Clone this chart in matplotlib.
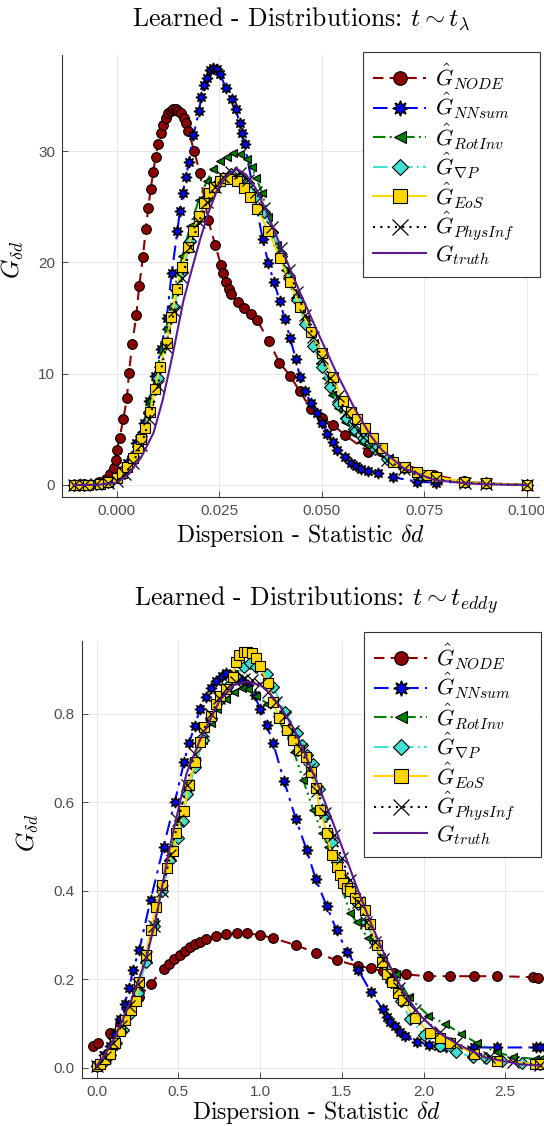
import matplotlib
matplotlib.use("Agg")
import matplotlib.pyplot as plt

plt.rcParams['mathtext.fontset'] = 'cm'
plt.rcParams['font.family'] = ['Liberation Sans', 'DejaVu Sans']

# ---------------- data: t ~ t_lambda (top) ----------------
node_x_a = [-0.0105, -0.008, -0.0044, -0.0027, -0.0016, -0.0007, -0.0002, 0.0, 0.0007, 0.0016, 0.0025, 0.003,
            0.0038, 0.0048, 0.0055, 0.0064, 0.0071, 0.0077, 0.0083, 0.0089, 0.0095, 0.0101, 0.0108, 0.0113,
            0.0120, 0.0125, 0.0132, 0.0138, 0.0144, 0.0150, 0.0156, 0.0164, 0.0169, 0.0175, 0.0189, 0.0203,
            0.0223, 0.0240, 0.0254, 0.0260, 0.0267, 0.0275, 0.0280, 0.0297, 0.0311, 0.0327, 0.0343, 0.0371,
            0.0397, 0.0423, 0.0447, 0.0474, 0.0501, 0.0528, 0.0556, 0.0613, 0.0775, 0.0847, 0.0900, 0.1000]
node_y_a = [0.0, 0.1, 0.3, 0.5, 1.0, 1.5, 2.2, 3.1, 4.2, 5.9, 7.8, 10.1,
            12.7, 15.3, 17.9, 20.5, 23.0, 24.9, 26.6, 28.1, 29.5, 30.6, 31.6, 32.3,
            33.0, 33.4, 33.6, 33.8, 33.8, 33.6, 33.4, 33.0, 32.5, 31.8, 30.0, 28.0,
            23.8, 21.6, 19.8, 19.0, 18.2, 17.6, 17.2, 16.4, 15.9, 15.4, 14.8, 12.9,
            11.0, 9.8, 8.4, 6.8, 6.0, 5.4, 4.5, 3.0, 0.9, 0.35, 0.15, 0.0]

nn_x_a = [-0.0105, -0.009, -0.002, 0.001, 0.0026, 0.0048, 0.0067, 0.0079, 0.0093, 0.0108, 0.0122, 0.0134,
          0.0148, 0.0154, 0.0161, 0.0169, 0.0176, 0.0187, 0.0201, 0.0206, 0.0213, 0.0220, 0.0227, 0.0235,
          0.0244, 0.0252, 0.0266, 0.0281, 0.0290, 0.0300, 0.0306, 0.0312, 0.0356, 0.0370, 0.0384, 0.0398,
          0.0410, 0.0423, 0.0437, 0.0447, 0.0459, 0.0474, 0.0488, 0.0501, 0.0514, 0.0527, 0.0538, 0.0556,
          0.0571, 0.0584, 0.0597, 0.0612, 0.0638, 0.0673, 0.0733, 0.0780, 0.0847, 0.0900, 0.1000]
nn_y_a = [0.0, 0.1, 0.3, 0.9, 2.0, 3.8, 5.6, 7.5, 9.8, 12.2, 15.0, 19.0,
          22.8, 24.6, 26.2, 27.7, 29.0, 31.4, 33.6, 34.9, 35.9, 36.6, 37.3, 37.5,
          37.4, 36.9, 35.7, 34.7, 33.8, 32.5, 31.6, 30.6, 22.1, 19.9, 18.2, 16.5,
          14.9, 13.2, 11.3, 9.7, 8.4, 7.4, 6.5, 5.6, 4.6, 3.9, 3.1, 2.5,
          2.0, 1.7, 1.4, 1.3, 1.1, 0.7, 0.3, 0.2, 0.3, 0.15, 0.0]

rot_x_a = [-0.0105, -0.008, -0.005, -0.002, 0.0, 0.002, 0.004, 0.006, 0.008, 0.010, 0.012, 0.014,
           0.016, 0.018, 0.0200, 0.0220, 0.0236, 0.0252, 0.0268, 0.0284, 0.0301, 0.0317, 0.0329, 0.0340,
           0.0355, 0.0370, 0.0390, 0.0410, 0.0435, 0.0460, 0.0482, 0.0497, 0.0510, 0.0526, 0.0540, 0.0558,
           0.0574, 0.0597, 0.0612, 0.0638, 0.0663, 0.0699, 0.0733, 0.0780, 0.0847, 0.0900, 0.1000]
rot_y_a = [0.0, 0.0, 0.1, 0.3, 0.7, 1.4, 2.8, 4.8, 7.5, 10.6, 14.0, 17.5,
           20.6, 23.3, 25.6, 27.3, 28.4, 29.1, 29.5, 29.8, 29.7, 29.3, 28.6, 27.6,
           26.2, 24.1, 21.6, 19.3, 16.8, 14.9, 12.8, 11.0, 9.6, 8.1, 6.9, 5.7,
           4.7, 3.9, 3.5, 3.0, 2.4, 1.7, 1.0, 0.5, 0.2, 0.1, 0.0]

grad_x_a = [-0.0105, -0.008, -0.005, -0.002, 0.0, 0.002, 0.004, 0.006, 0.008, 0.010, 0.012, 0.014,
            0.016, 0.018, 0.020, 0.022, 0.024, 0.026, 0.028, 0.030, 0.032, 0.034, 0.036, 0.038,
            0.040, 0.042, 0.044, 0.046, 0.048, 0.050, 0.052, 0.054, 0.056, 0.058, 0.060, 0.063,
            0.066, 0.070, 0.074, 0.078, 0.085, 0.090, 0.100]
grad_y_a = [0.0, 0.0, 0.1, 0.3, 0.7, 1.5, 2.6, 4.4, 6.6, 9.6, 12.8, 16.0,
            19.1, 21.9, 24.0, 25.8, 26.9, 27.6, 27.9, 27.7, 27.1, 26.0, 24.5, 22.7,
            20.6, 18.6, 16.6, 14.5, 12.5, 10.6, 8.8, 7.3, 6.0, 5.0, 4.2, 3.2,
            2.3, 1.5, 0.9, 0.6, 0.3, 0.15, 0.0]

eos_x_a = [-0.0105, -0.009, -0.007, -0.004, -0.002, 0.0, 0.0014, 0.0026, 0.0040, 0.0052, 0.0060, 0.0069,
           0.0082, 0.0093, 0.0105, 0.0122, 0.0133, 0.0147, 0.0159, 0.0174, 0.0186, 0.0201, 0.0213, 0.0225,
           0.0238, 0.0252, 0.0264, 0.0276, 0.0293, 0.0310, 0.0325, 0.0343, 0.0370, 0.0398, 0.0423, 0.0447,
           0.0474, 0.0500, 0.0527, 0.0553, 0.0571, 0.0587, 0.0605, 0.0625, 0.0648, 0.0673, 0.0702, 0.0732,
           0.0758, 0.0780, 0.0847, 0.0900, 0.1000]
eos_y_a = [0.0, 0.0, 0.0, 0.1, 0.3, 0.6, 1.1, 1.6, 2.4, 3.3, 4.1, 5.1,
           6.6, 8.6, 10.6, 12.8, 15.1, 17.6, 19.6, 21.4, 22.8, 24.2, 25.3, 26.2,
           26.8, 27.3, 27.6, 27.5, 27.3, 26.7, 25.9, 24.8, 22.8, 20.4, 18.2, 16.0,
           13.7, 11.9, 9.7, 7.5, 6.6, 5.9, 5.1, 4.2, 3.3, 2.1, 1.6, 1.2,
           0.9, 0.7, 0.3, 0.15, 0.0]

phys_x_a = [-0.0105, -0.008, -0.005, -0.002, 0.0, 0.002, 0.004, 0.006, 0.008, 0.010, 0.012, 0.014,
            0.016, 0.018, 0.020, 0.022, 0.024, 0.026, 0.028, 0.030, 0.032, 0.034, 0.036, 0.038,
            0.040, 0.042, 0.044, 0.046, 0.048, 0.050, 0.052, 0.054, 0.056, 0.058, 0.060, 0.063,
            0.066, 0.070, 0.074, 0.078, 0.085, 0.090, 0.100]
phys_y_a = [0.0, 0.0, 0.05, 0.2, 0.4, 1.0, 2.0, 3.6, 5.9, 8.9, 12.4, 15.6,
            18.6, 21.4, 23.6, 25.4, 26.8, 27.7, 28.1, 28.0, 27.4, 26.3, 24.9, 23.2,
            21.3, 19.3, 17.3, 15.3, 13.3, 11.4, 9.6, 8.0, 6.5, 5.3, 4.3, 3.1,
            2.2, 1.4, 0.8, 0.5, 0.2, 0.1, 0.0]

truth_x_a = [-0.0105, -0.005, 0.0, 0.003, 0.006, 0.009, 0.0112, 0.0137, 0.0163, 0.0185, 0.0203, 0.0222,
             0.0244, 0.0268, 0.0293, 0.0315, 0.0340, 0.0366, 0.0406, 0.0447, 0.0488, 0.0537, 0.0580, 0.0620,
             0.0648, 0.0700, 0.0775, 0.0850, 0.0920, 0.1000]
truth_y_a = [0.0, 0.0, 0.2, 1.0, 2.5, 4.7, 7.6, 11.8, 16.6, 19.6, 22.0, 24.3,
             26.4, 27.8, 28.4, 27.9, 26.6, 24.5, 20.9, 17.3, 13.9, 10.0, 6.9, 4.4,
             3.1, 1.5, 0.45, 0.15, 0.05, 0.0]

# ---------------- data: t ~ t_eddy (bottom) ----------------
node_x_b = [-0.02, 0.01, 0.08, 0.14, 0.19, 0.26, 0.33, 0.41, 0.44, 0.47, 0.51, 0.54,
            0.57, 0.60, 0.63, 0.67, 0.73, 0.79, 0.86, 0.92, 1.00, 1.08, 1.22, 1.34,
            1.47, 1.60, 1.68, 1.75, 1.82, 1.89, 2.03, 2.16, 2.31, 2.45, 2.67, 2.70]
node_y_b = [0.05, 0.057, 0.078, 0.10, 0.13, 0.16, 0.19, 0.223, 0.234, 0.245, 0.255, 0.264,
            0.272, 0.28, 0.285, 0.29, 0.298, 0.302, 0.304, 0.304, 0.30, 0.293, 0.277, 0.26,
            0.243, 0.23, 0.225, 0.218, 0.214, 0.211, 0.207, 0.207, 0.207, 0.207, 0.205, 0.204]

nn_x_b = [0.0, 0.045, 0.08, 0.11, 0.14, 0.17, 0.20, 0.22, 0.26, 0.33, 0.409, 0.477,
          0.534, 0.563, 0.602, 0.630, 0.669, 0.698, 0.727, 0.765, 0.794, 0.842, 0.890, 0.928,
          0.967, 0.999, 1.04, 1.08, 1.146, 1.219, 1.285, 1.341, 1.407, 1.468, 1.533, 1.60,
          1.676, 1.75, 1.774, 1.795, 1.825, 1.856, 1.886, 1.958, 2.035, 2.09, 2.14, 2.31,
          2.45, 2.69, 2.71]
nn_y_b = [0.007, 0.03, 0.05, 0.077, 0.11, 0.145, 0.18, 0.22, 0.266, 0.38, 0.50, 0.60,
          0.69, 0.733, 0.773, 0.81, 0.838, 0.858, 0.875, 0.886, 0.893, 0.89, 0.877, 0.866,
          0.843, 0.81, 0.775, 0.733, 0.649, 0.562, 0.492, 0.426, 0.366, 0.311, 0.262, 0.222,
          0.172, 0.132, 0.115, 0.104, 0.094, 0.082, 0.072, 0.059, 0.052, 0.05, 0.046, 0.046,
          0.046, 0.046, 0.046]

rot_x_b = [0.0, 0.05, 0.10, 0.15, 0.20, 0.25, 0.30, 0.35, 0.40, 0.45, 0.50, 0.55,
           0.60, 0.65, 0.70, 0.736, 0.794, 0.842, 0.890, 0.928, 0.976, 1.044, 1.101, 1.150,
           1.207, 1.264, 1.325, 1.38, 1.417, 1.48, 1.55, 1.59, 1.66, 1.74, 1.83, 1.91,
           2.03, 2.13, 2.23, 2.33, 2.45, 2.55, 2.68, 2.71]
rot_y_b = [0.005, 0.02, 0.05, 0.09, 0.13, 0.18, 0.25, 0.33, 0.41, 0.48, 0.56, 0.63,
           0.69, 0.74, 0.78, 0.81, 0.834, 0.85, 0.859, 0.857, 0.841, 0.823, 0.795, 0.76,
           0.714, 0.65, 0.583, 0.53, 0.50, 0.43, 0.35, 0.33, 0.293, 0.25, 0.213, 0.16,
           0.118, 0.10, 0.077, 0.055, 0.035, 0.025, 0.02, 0.02]

grad_x_b = [0.0, 0.04, 0.08, 0.12, 0.16, 0.20, 0.25, 0.30, 0.35, 0.40, 0.45, 0.50,
            0.525, 0.554, 0.60, 0.65, 0.70, 0.75, 0.80, 0.85, 0.90, 0.937, 0.976, 1.04,
            1.08, 1.152, 1.223, 1.254, 1.285, 1.322, 1.36, 1.40, 1.44, 1.468, 1.509, 1.55,
            1.60, 1.65, 1.70, 1.753, 1.80, 1.86, 1.92, 2.00, 2.10, 2.20, 2.30, 2.38,
            2.48, 2.60, 2.71]
grad_y_b = [0.003, 0.012, 0.03, 0.055, 0.085, 0.12, 0.17, 0.24, 0.32, 0.40, 0.47, 0.52,
            0.557, 0.618, 0.68, 0.74, 0.79, 0.83, 0.86, 0.885, 0.905, 0.914, 0.905, 0.891,
            0.861, 0.805, 0.756, 0.73, 0.707, 0.687, 0.63, 0.57, 0.51, 0.466, 0.43, 0.40,
            0.37, 0.33, 0.285, 0.236, 0.195, 0.15, 0.11, 0.075, 0.05, 0.035, 0.025, 0.023,
            0.015, 0.01, 0.008]

eos_x_b = [0.0, 0.02, 0.05, 0.08, 0.11, 0.14, 0.17, 0.21, 0.24, 0.26, 0.30, 0.33,
           0.36, 0.40, 0.43, 0.467, 0.486, 0.534, 0.563, 0.602, 0.630, 0.659, 0.698, 0.727,
           0.755, 0.794, 0.832, 0.852, 0.871, 0.900, 0.919, 0.948, 0.976, 0.999, 1.05, 1.08,
           1.117, 1.162, 1.203, 1.239, 1.28, 1.311, 1.341, 1.366, 1.407, 1.437, 1.468, 1.488,
           1.509, 1.529, 1.55, 1.58, 1.611, 1.641, 1.672, 1.713, 1.744, 1.774, 1.805, 1.845,
           1.876, 1.947, 2.04, 2.10, 2.16, 2.31, 2.45, 2.68, 2.71]
eos_y_b = [0.003, 0.009, 0.02, 0.032, 0.057, 0.084, 0.107, 0.13, 0.152, 0.193, 0.254, 0.311,
           0.364, 0.413, 0.452, 0.49, 0.53, 0.58, 0.64, 0.69, 0.736, 0.77, 0.796, 0.823,
           0.841, 0.857, 0.884, 0.918, 0.932, 0.94, 0.94, 0.938, 0.927, 0.907, 0.869, 0.827,
           0.79, 0.763, 0.741, 0.718, 0.702, 0.669, 0.632, 0.583, 0.53, 0.481, 0.454, 0.436,
           0.417, 0.406, 0.40, 0.383, 0.375, 0.357, 0.325, 0.277, 0.24, 0.213, 0.195, 0.168,
           0.153, 0.112, 0.078, 0.068, 0.057, 0.032, 0.016, 0.009, 0.008]

phys_x_b = [0.0, 0.05, 0.10, 0.15, 0.20, 0.25, 0.30, 0.35, 0.40, 0.45, 0.50, 0.55,
            0.60, 0.65, 0.70, 0.75, 0.80, 0.85, 0.90, 0.95, 1.00, 1.05, 1.10, 1.15,
            1.20, 1.25, 1.30, 1.35, 1.40, 1.45, 1.50, 1.55, 1.60, 1.65, 1.70, 1.75,
            1.80, 1.85, 1.90, 1.95, 2.00, 2.10, 2.20, 2.30, 2.40, 2.55, 2.71]
phys_y_b = [0.004, 0.025, 0.055, 0.095, 0.14, 0.19, 0.25, 0.32, 0.40, 0.48, 0.56, 0.64,
            0.71, 0.76, 0.80, 0.835, 0.858, 0.872, 0.878, 0.876, 0.868, 0.85, 0.826, 0.795,
            0.76, 0.72, 0.675, 0.625, 0.575, 0.525, 0.475, 0.425, 0.375, 0.33, 0.285, 0.245,
            0.21, 0.18, 0.153, 0.13, 0.11, 0.08, 0.056, 0.038, 0.025, 0.013, 0.006]

truth_x_b = [0.0, 0.05, 0.11, 0.21, 0.30, 0.36, 0.448, 0.55, 0.632, 0.754, 0.84, 0.919,
             1.0, 1.044, 1.12, 1.207, 1.285, 1.37, 1.45, 1.52, 1.60, 1.68, 1.78, 1.88,
             1.98, 2.08, 2.21, 2.38, 2.59, 2.72]
truth_y_b = [0.005, 0.03, 0.068, 0.152, 0.243, 0.334, 0.50, 0.666, 0.741, 0.831, 0.865, 0.873,
             0.865, 0.852, 0.818, 0.766, 0.70, 0.625, 0.55, 0.48, 0.40, 0.325, 0.24, 0.17,
             0.118, 0.083, 0.053, 0.023, 0.008, 0.005]

labels = [r'$\hat{G}_{NODE}$', r'$\hat{G}_{NNsum}$', r'$\hat{G}_{RotInv}$', r'$\hat{G}_{\nabla P}$',
          r'$\hat{G}_{EoS}$', r'$\hat{G}_{PhysInf}$', r'$G_{truth}$']

styles = [
    dict(color='#8b0000', ls=(0, (5, 3)), marker='o', ms=7, mfc='#8b0000', mec='black', mew=0.8),
    dict(color='#0000ff', ls=(0, (7, 3, 1.5, 3)), marker=(8, 1, 0), ms=8, mfc='#0000ff', mec='black', mew=1.0),
    dict(color='#008000', ls=(0, (6, 2, 1, 2, 1, 2)), marker='<', ms=6, mfc='#008000', mec='black', mew=0.8),
    dict(color='#40e0d0', ls=(0, (7, 2, 1, 2)), marker='D', ms=6, mfc='#40e0d0', mec='black', mew=0.8),
    dict(color='#ffd700', ls='-', marker='s', ms=7.5, mfc='#ffd700', mec='black', mew=0.8),
    dict(color='black', ls=(0, (1, 2.5)), marker='x', ms=8, mfc='black', mec='black', mew=0.9),
    dict(color='#5a1a8c', ls='-', marker='None'),
]

TICKC = '#4d4d4d'
TICKFONT = ['Liberation Sans', 'DejaVu Sans']


def make_panel(ax, series, xlim, ylim, xticks, xfmt, yticks, yfmt):
    for i, ((x, y), st, lab) in enumerate(zip(series, styles, labels)):
        ax.plot(x, y, lw=1.5, label=lab, zorder=3 + i, **st)
    ax.set_xlim(*xlim)
    ax.set_ylim(*ylim)
    ax.set_xticks(xticks)
    ax.set_xticklabels([xfmt.format(v) for v in xticks], family=TICKFONT)
    ax.set_yticks(yticks)
    ax.set_yticklabels([yfmt.format(v) for v in yticks], family=TICKFONT)
    ax.grid(True, color='#e8e8e8', lw=0.7)
    ax.set_axisbelow(True)
    for s in ['top', 'right']:
        ax.spines[s].set_visible(False)
    for s in ['left', 'bottom']:
        ax.spines[s].set_color('#333333')
        ax.spines[s].set_linewidth(0.8)
    ax.tick_params(direction='in', length=4, width=0.6, color='#333333',
                   labelsize=11, labelcolor=TICKC, pad=5)


fig = plt.figure(figsize=(5.44, 11.26), dpi=100)

ax1 = fig.add_axes([62 / 544, 1 - 497 / 1126, 477 / 544, 442 / 1126])
make_panel(ax1,
           [(node_x_a, node_y_a), (nn_x_a, nn_y_a), (rot_x_a, rot_y_a), (grad_x_a, grad_y_a),
            (eos_x_a, eos_y_a), (phys_x_a, phys_y_a), (truth_x_a, truth_y_a)],
           (-0.01334, 0.1030), (-1.08, 38.63),
           [0.0, 0.025, 0.05, 0.075, 0.1], '{:.3f}', [0, 10, 20, 30], '{:d}')

ax2 = fig.add_axes([81.7 / 544, 1 - 1078 / 1126, 468.3 / 544, 437 / 1126])
make_panel(ax2,
           [(node_x_b, node_y_b), (nn_x_b, nn_y_b), (rot_x_b, rot_y_b), (grad_x_b, grad_y_b),
            (eos_x_b, eos_y_b), (phys_x_b, phys_y_b), (truth_x_b, truth_y_b)],
           (-0.092, 2.774), (-0.023, 0.9645),
           [0.0, 0.5, 1.0, 1.5, 2.0, 2.5], '{:.1f}', [0.0, 0.2, 0.4, 0.6, 0.8], '{:.1f}')

# titles and axis labels
fig.text(301 / 544, 1 - 19 / 1126, r'Learned - Distributions: $t \sim t_{\lambda}$',
         family='cmr10', fontsize=18.5, ha='center', va='center')
fig.text(316 / 544, 1 - 600 / 1126, r'Learned - Distributions: $t \sim t_{eddy}$',
         family='cmr10', fontsize=18.5, ha='center', va='center')
fig.text(300 / 544, 1 - 535 / 1126, r'Dispersion - Statistic $\delta d$',
         family='cmr10', fontsize=17, ha='center', va='center')
fig.text(316.5 / 544, 1 - 1112 / 1126, r'Dispersion - Statistic $\delta d$',
         family='cmr10', fontsize=17, ha='center', va='center')
fig.text(13 / 544, 1 - 260 / 1126, r'$G_{\delta d}$', fontsize=18, rotation=90,
         ha='center', va='center')
fig.text(28 / 544, 1 - 833 / 1126, r'$G_{\delta d}$', fontsize=18, rotation=90,
         ha='center', va='center')

for ax, (lx, ly) in [(ax1, (363, 52)), (ax2, (364, 632))]:
    h, l = ax.get_legend_handles_labels()
    box = (lx / 544, 1 - (ly + 230) / 1126, 177 / 544, 230 / 1126)
    leg = fig.legend(h, l, loc='upper left', bbox_to_anchor=box, mode='expand', fontsize=16,
                     frameon=True, fancybox=False, edgecolor='#333333', framealpha=1,
                     handlelength=2.4, handletextpad=0.4, labelspacing=0.0,
                     borderpad=0.45, markerscale=1.4, borderaxespad=0)
    leg.get_frame().set_linewidth(0.8)

fig.savefig('out.png', dpi=100)
